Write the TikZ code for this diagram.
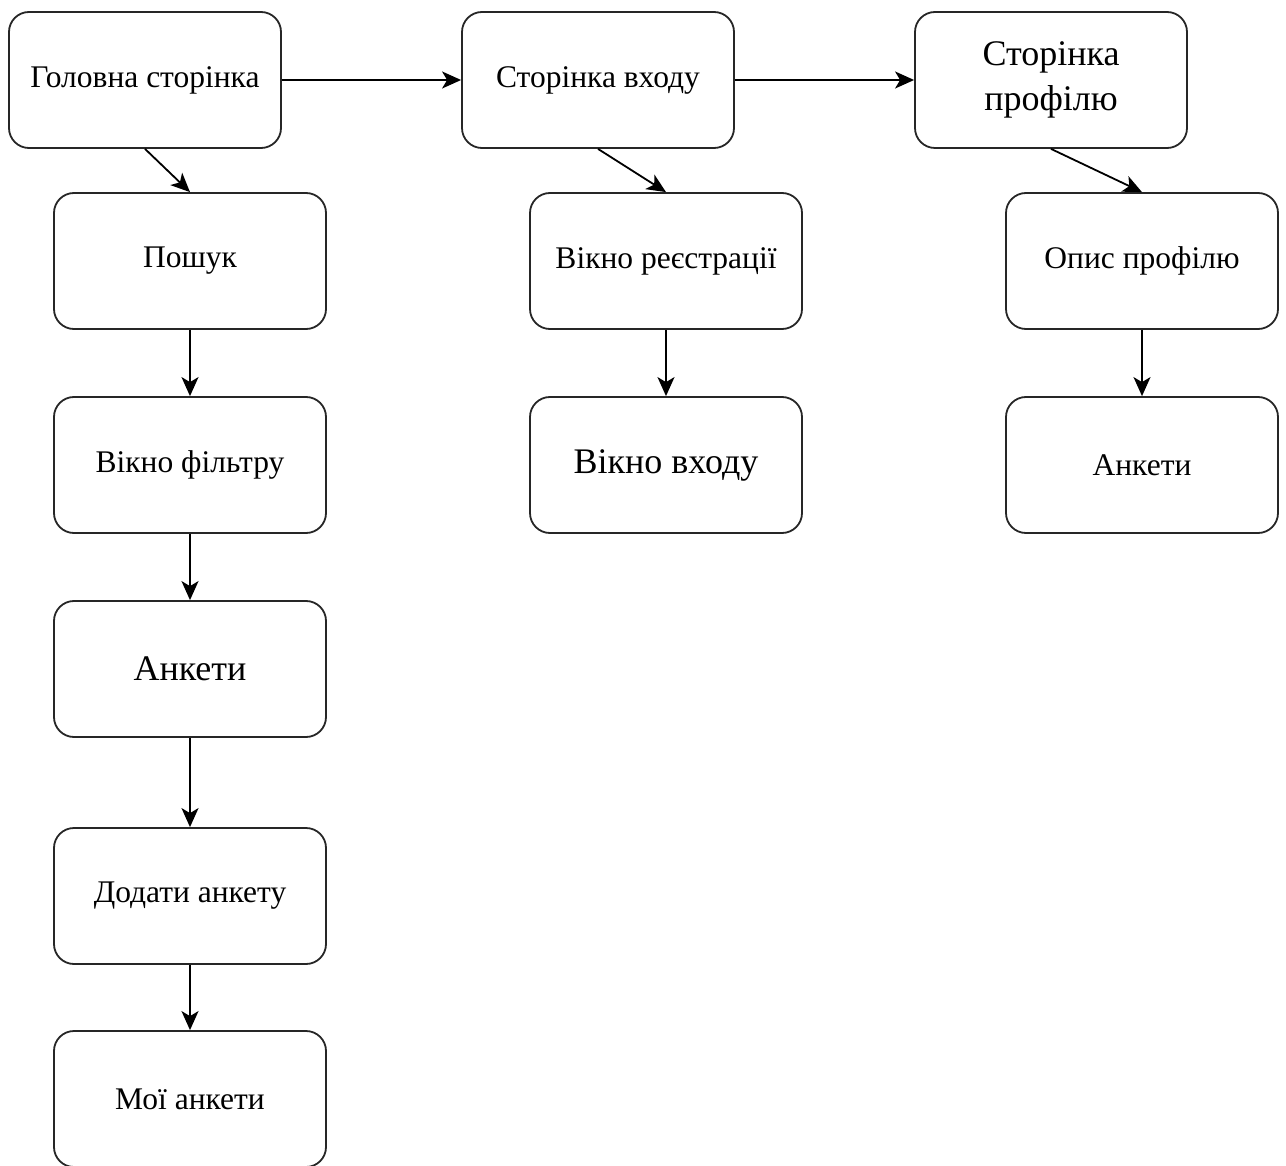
\documentclass[tikz,border=0pt]{standalone}
\usepackage{fontspec}
\setmainfont{Liberation Serif}
\usetikzlibrary{arrows.meta}
\begin{document}
\begin{tikzpicture}[x=1pt,y=-1pt,
  box/.style={draw=black!85, line width=1.8pt, rounded corners=20pt,
    minimum width=272pt, minimum height=136pt, inner sep=0pt, align=center,
    font=\fontsize{31.5}{38}\selectfont},
  bigtext/.style={font=\fontsize{36}{45}\selectfont},
  conn/.style={line width=1.8pt, -{Stealth[length=19pt,width=17pt,inset=5pt]}}]
\useasboundingbox (0,0) rectangle (1286,1166);
\node[box] (home) at (145,80) {Головна сторінка};
\node[box] (login) at (598,80) {Сторінка входу};
\node[box,bigtext] (profile) at (1051,80) {Сторінка\\профілю};
\node[box] (search) at (190,261) {Пошук};
\node[box] (filter) at (190,465) {Вікно фільтру};
\node[box,bigtext] (ads) at (190,669) {Анкети};
\node[box] (add) at (190,896) {Додати анкету};
\node[box] (mine) at (190,1099) {Мої анкети};
\node[box] (reg) at (666,261) {Вікно реєстрації};
\node[box,bigtext] (enter) at (666,465) {Вікно входу};
\node[box] (desc) at (1142,261) {Опис профілю};
\node[box] (ads2) at (1142,465) {Анкети};
\draw[conn] (home) -- (login);
\draw[conn] (login) -- (profile);
\draw[conn] (home.south) -- (search.north);
\draw[conn] (login.south) -- (reg.north);
\draw[conn] (profile.south) -- (desc.north);
\draw[conn] (search) -- (filter);
\draw[conn] (filter) -- (ads);
\draw[conn] (ads) -- (add);
\draw[conn] (add) -- (mine);
\draw[conn] (reg) -- (enter);
\draw[conn] (desc) -- (ads2);
\end{tikzpicture}
\end{document}
